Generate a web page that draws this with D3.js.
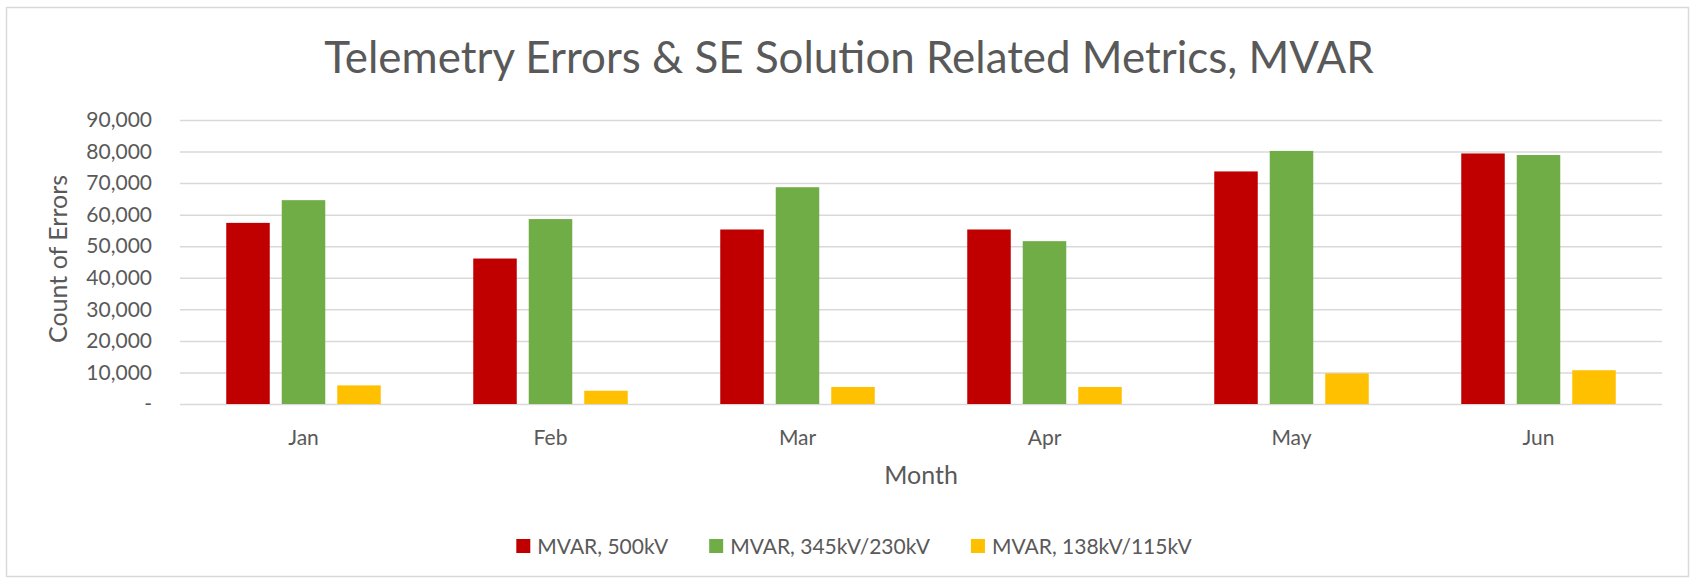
<!DOCTYPE html>
<html>
<head>
<meta charset="utf-8">
<script src="https://cdn.jsdelivr.net/npm/d3@7"></script>
<style>
  body { margin: 0; background: #fff; }
  text { font-family: Lato, "Open Sans", sans-serif; fill: #595959; }
</style>
</head>
<body>
<script>
const months = ['Jan', 'Feb', 'Mar', 'Apr', 'May', 'Jun'];
const seriesNames = ['MVAR, 500kV', 'MVAR, 345kV/230kV', 'MVAR, 138kV/115kV'];
const seriesColors = ['#C00000', '#70AD47', '#FFC000'];
const mvar500 = [57400, 46100, 55300, 55300, 73700, 79400];
const mvar345 = [64600, 58600, 68700, 51600, 80200, 78900];
const mvar138 = [5900, 4200, 5400, 5400, 9700, 10700];
const yTicks = [0, 10000, 20000, 30000, 40000, 50000, 60000, 70000, 80000, 90000];

const W = 1691, H = 579;
const seriesValues = [mvar500, mvar345, mvar138];

const svg = d3.select('body').append('svg')
    .attr('width', W).attr('height', H)
    .attr('xmlns', 'http://www.w3.org/2000/svg');

// chart area frame
svg.append('rect')
    .attr('x', 6.5).attr('y', 7.5)
    .attr('width', 1682).attr('height', 569)
    .attr('fill', '#fff')
    .attr('stroke', '#d9d9d9')
    .attr('stroke-width', 1.5);

const plot = { left: 180, right: 1662, top: 120, bottom: 404 };

const x0 = d3.scaleBand().domain(months).range([plot.left, plot.right]).padding(0);
const x1 = d3.scaleBand().domain(d3.range(seriesNames.length))
    .range([0, 154.5]).paddingInner(0.216).paddingOuter(0);
const groupOffset = (x0.bandwidth() - 154.5) / 2;

const y = d3.scaleLinear().domain([0, 90000]).range([plot.bottom, plot.top]);

// gridlines + y tick labels
const yAxis = d3.axisLeft(y)
    .tickValues(yTicks)
    .tickSize(-(plot.right - plot.left))
    .tickPadding(28)
    .tickFormat(d => d === 0 ? '-' : d3.format(',')(d));

const gy = svg.append('g')
    .attr('transform', `translate(${plot.left},0)`)
    .call(yAxis);
gy.select('.domain').remove();
gy.selectAll('.tick line').attr('stroke', '#d9d9d9').attr('stroke-width', 1.5);
gy.selectAll('.tick text')
    .attr('font-size', 21)
    .attr('fill', '#595959')
    .style('font-family', 'Lato, "Open Sans", sans-serif');

// x labels
const xAxis = d3.axisBottom(x0).tickSize(0).tickPadding(26);
const gx = svg.append('g')
    .attr('transform', `translate(0,${plot.bottom})`)
    .call(xAxis);
gx.select('.domain').remove();
gx.selectAll('.tick text')
    .attr('font-size', 21)
    .attr('fill', '#595959')
    .style('font-family', 'Lato, "Open Sans", sans-serif');

// bars
const rows = months.map((m, i) => ({
    month: m,
    vals: seriesValues.map((s, k) => ({ k: k, v: s[i] }))
}));

svg.append('g').selectAll('g')
    .data(rows)
    .join('g')
    .attr('transform', d => `translate(${x0(d.month) + groupOffset},0)`)
    .selectAll('rect')
    .data(d => d.vals)
    .join('rect')
    .attr('x', d => x1(d.k))
    .attr('y', d => y(d.v))
    .attr('width', x1.bandwidth())
    .attr('height', d => y(0) - y(d.v))
    .attr('fill', d => seriesColors[d.k]);

// title, fitted to the reference width
const title = svg.append('text')
    .attr('x', 849).attr('y', 73)
    .attr('text-anchor', 'middle')
    .attr('font-size', 40)
    .text('Telemetry Errors & SE Solution Related Metrics, MVAR');
const tw = title.node().getComputedTextLength();
title.attr('font-size', 40 * 1050 / tw);

// axis titles
svg.append('text')
    .attr('transform', `translate(67,259) rotate(-90)`)
    .attr('text-anchor', 'middle')
    .attr('font-size', 25)
    .text('Count of Errors');

svg.append('text')
    .attr('x', (plot.left + plot.right) / 2).attr('y', 484)
    .attr('text-anchor', 'middle')
    .attr('font-size', 25)
    .text('Month');

// legend
const legend = svg.append('g');
let lx = 0;
seriesNames.forEach((name, k) => {
    const item = legend.append('g').attr('transform', `translate(${lx},0)`);
    item.append('rect')
        .attr('x', 0).attr('y', -7)
        .attr('width', 14).attr('height', 14)
        .attr('fill', seriesColors[k]);
    const t = item.append('text')
        .attr('x', 21).attr('y', 8)
        .attr('font-size', 21)
        .text(name);
    lx += 21 + t.node().getComputedTextLength() + 41;
});
lx -= 41;
legend.attr('transform', `translate(${854 - lx / 2},546)`);
</script>
</body>
</html>
